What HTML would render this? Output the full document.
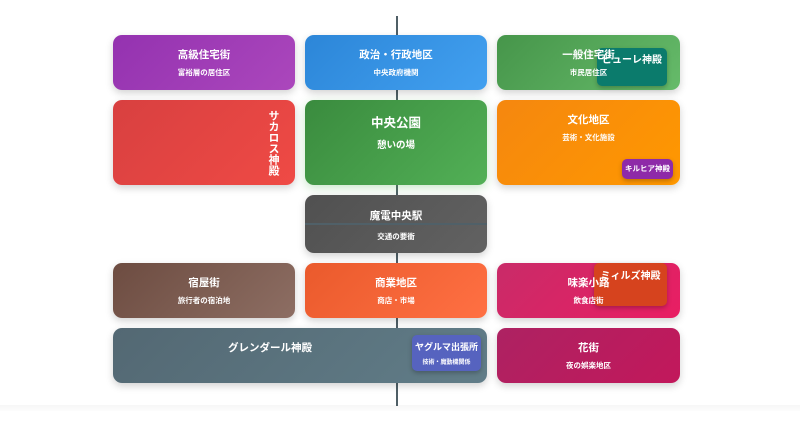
<!DOCTYPE html>
<html><head><meta charset="utf-8"><style>
body{margin:0;width:800px;height:436px;background:#fff;position:relative;overflow:hidden;font-family:"Liberation Sans","Noto Sans CJK JP",sans-serif;color:#fff}
.b{position:absolute;border-radius:9px;box-shadow:0 3px 8px rgba(0,0,0,.18);text-align:center;font-weight:bold}
.t{font-size:10.5px;margin-top:12px;position:relative;z-index:5}
.s{font-size:7.5px;margin-top:5px;position:relative;z-index:5}
.bd{position:absolute;border-radius:5px;box-shadow:0 2px 5px rgba(0,0,0,.25);font-weight:bold;text-align:center;z-index:2}
.tx{position:absolute;text-align:center;font-weight:bold;z-index:5}
</style></head><body>
<div style="position:absolute;left:0;top:405px;width:800px;height:6px;background:linear-gradient(#f6f6f6,#fcfcfc)"></div>
<div style="position:absolute;left:396px;top:16px;width:2px;height:390px;background:#4f5f66"></div>

<div class="b" style="left:113px;top:35px;width:182px;height:55px;background:linear-gradient(135deg,#9432b0,#ab47bc)"><div class="t">高級住宅街</div><div class="s">富裕層の居住区</div></div>
<div class="b" style="left:305px;top:35px;width:182px;height:55px;background:linear-gradient(135deg,#2c86d8,#42a0f0)"><div class="t">政治・行政地区</div><div class="s">中央政府機関</div></div>
<div class="b" style="left:497px;top:35px;width:183px;height:55px;background:linear-gradient(135deg,#46954a,#66bb6a)"></div>
<div class="bd" style="left:597px;top:48px;width:70px;height:38px;background:#0b7b6c;font-size:10px;line-height:26px">ピューレ神殿</div>
<div class="tx" style="left:497px;top:47px;width:183px"><div style="font-size:10.5px">一般住宅街</div><div style="font-size:7.5px;margin-top:5px">市民居住区</div></div>

<div class="b" style="left:113px;top:100px;width:182px;height:85px;background:linear-gradient(135deg,#d84040,#ef4a45)"></div>
<div style="position:absolute;left:264px;top:110px;font-size:11px;font-weight:bold;writing-mode:vertical-rl;line-height:18px">サカロス神殿</div>
<div class="b" style="left:305px;top:100px;width:182px;height:85px;background:linear-gradient(135deg,#3a8b3e,#52b056);box-shadow:0 3px 10px rgba(76,175,80,.3)"><div class="t" style="font-size:12.5px;margin-top:12px">中央公園</div><div class="s" style="font-size:9.5px;margin-top:6px">憩いの場</div></div>
<div class="b" style="left:497px;top:100px;width:183px;height:85px;background:linear-gradient(135deg,#f5870f,#ff9800)"><div class="t">文化地区</div><div class="s">芸術・文化施設</div></div>
<div class="bd" style="left:622px;top:159px;width:51px;height:20px;background:#8e2aa8;font-size:7.5px;line-height:20px">キルヒア神殿</div>

<div class="b" style="left:305px;top:195px;width:182px;height:58px;background:linear-gradient(135deg,#505050,#626262)"><div class="t" style="margin-top:13px">魔電中央駅</div><div class="s" style="margin-top:8px">交通の要衝</div></div>
<div style="position:absolute;left:305px;top:223px;width:182px;height:2px;background:#506068"></div>

<div class="b" style="left:113px;top:263px;width:182px;height:55px;background:linear-gradient(135deg,#6d4c41,#8d6e63)"><div class="t">宿屋街</div><div class="s">旅行者の宿泊地</div></div>
<div class="b" style="left:305px;top:263px;width:182px;height:55px;background:linear-gradient(135deg,#ea5a2c,#ff7043)"><div class="t">商業地区</div><div class="s">商店・市場</div></div>
<div class="b" style="left:497px;top:263px;width:183px;height:55px;background:linear-gradient(135deg,#c92b68,#e91e63)"></div>
<div class="bd" style="left:594px;top:263px;width:73px;height:43px;background:#d6431e;font-size:10px;line-height:28px">ミィルズ神殿</div>
<div class="tx" style="left:497px;top:275px;width:183px"><div style="font-size:10.5px">味楽小路</div><div style="font-size:7.5px;margin-top:5px">飲食店街</div></div>

<div class="b" style="left:113px;top:328px;width:374px;height:55px;background:linear-gradient(135deg,#536873,#617d88)"><div class="t" style="margin-left:-60px">グレンダール神殿</div></div>
<div class="bd" style="left:412px;top:335px;width:69px;height:36px;background:#5663bf"><div style="font-size:9px;margin-top:5px">ヤグルマ出張所</div><div style="font-size:6px;margin-top:4px">技術・魔動機関係</div></div>
<div class="b" style="left:497px;top:328px;width:183px;height:55px;background:linear-gradient(135deg,#ad2262,#c2185b)"><div class="t">花街</div><div class="s">夜の娯楽地区</div></div>
</body></html>
